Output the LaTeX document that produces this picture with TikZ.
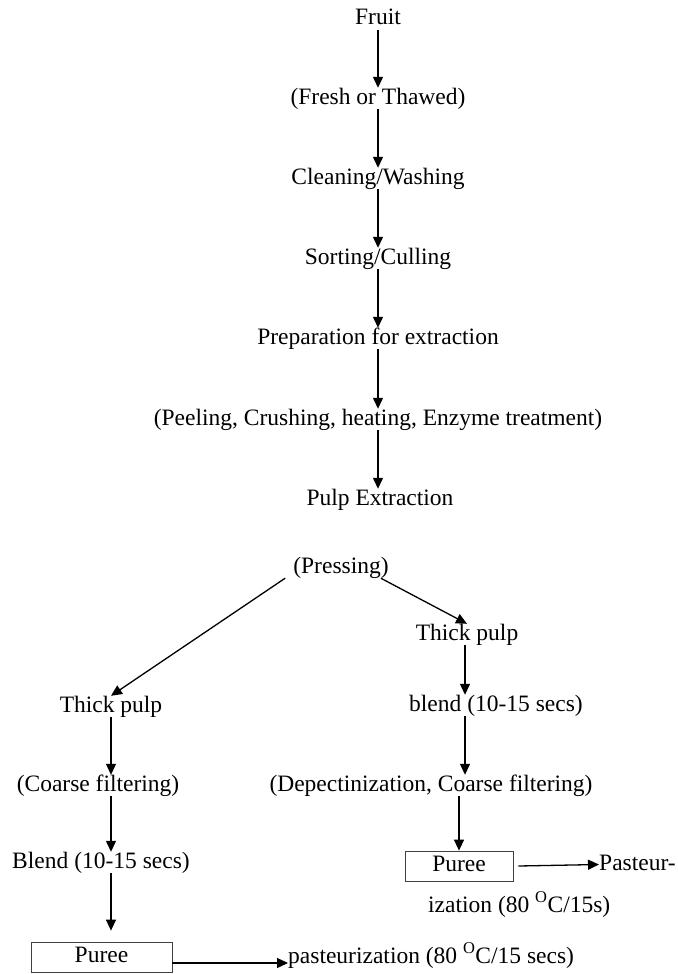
\documentclass[tikz,border=0pt]{standalone}
\usepackage{fontspec}
\setmainfont{Liberation Serif}
\usetikzlibrary{arrows.meta,positioning}

\begin{document}
\begin{tikzpicture}[x=1pt,y=-1pt,font=\fontsize{23.5}{28}\selectfont,
  >={Triangle[length=11pt,width=10pt]},
  lbl/.style={inner sep=0pt,text height=16pt,text depth=5pt,anchor=base},
  bx/.style={draw=black!75,line width=0.8pt,inner sep=0pt,minimum height=30pt,text height=16pt,text depth=5pt},
  arr/.style={->,line width=1.3pt}]
\useasboundingbox (0,0) rectangle (677,974);
\node[lbl] (fr) at (378,25) {Fruit};
\node[lbl] (fs) at (378,104) {(Fresh or Thawed)};
\node[lbl] (cw) at (378,184) {Cleaning/Washing};
\node[lbl] (sc) at (378,264) {Sorting/Culling};
\node[lbl] (pe) at (378,344) {Preparation for extraction};
\node[lbl] (pc) at (378,425) {(Peeling, Crushing, heating, Enzyme treatment)};
\node[lbl] (px) at (380,505) {Pulp Extraction};
\draw[arr](fr)--(fs);\draw[arr](fs)--(cw);\draw[arr](cw)--(sc);
\draw[arr](sc)--(pe);\draw[arr](pe)--(pc);\draw[arr](pc)--(pc.south|-px.north);
\node[lbl] (pr) at (341,573) {(Pressing)};
\node[lbl] (tpl) at (111,712) {Thick pulp};
\node[lbl] (cf) at (98,791) {(Coarse filtering)};
\node[lbl] (bll) at (101,868) {Blend (10-15 secs)};
\node[bx,minimum width=141pt] (pul) at (101.5,957) {Puree};
\node[lbl,anchor=base west] (pzl) at (288,963) {pasteurization (80 \textsuperscript{O}C/15 secs)};
\node[lbl] (tpr) at (467,640) {Thick pulp};
\node[lbl] (blr) at (496,711) {blend (10-15 secs)};
\node[lbl] (dc) at (431,791) {(Depectinization, Coarse filtering)};
\node[bx,minimum width=108pt] (pur) at (459,866) {Puree};
\node[lbl,anchor=base west] (pzr) at (599,870) {Pasteur-};
\node[lbl,anchor=base west] (iz) at (428,912) {ization (80 \textsuperscript{O}C/15s)};
\draw[arr]([xshift=-8pt]pr.south west)--(tpl.north);
\draw[arr]([xshift=-8pt]pr.south east)--(tpr.north);
\draw[arr](tpl.south)--(tpl.south|-cf.north);
\draw[arr](tpl.south|-cf.south)--(tpl.south|-bll.north);
\draw[arr](tpl.south|-bll.south)--([yshift=11pt]tpl.south|-pul.north);
\draw[arr](pul.east|-pzl.base west)--(pzl.base west);
\draw[arr]([xshift=-2pt]tpr.south)--([xshift=-2pt]tpr.south|-blr.north);
\draw[arr]([xshift=-2pt]tpr.south|-blr.south)--([xshift=-2pt]tpr.south|-dc.north);
\draw[arr](pur.north|-dc.south)--(pur.north);
\draw[arr]([xshift=5pt]pur.east)--(pzr.west);
\end{tikzpicture}
\end{document}
